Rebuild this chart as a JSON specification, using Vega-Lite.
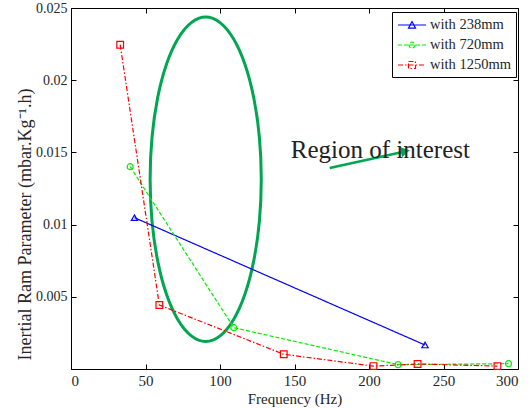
{
  "$schema": "https://vega.github.io/schema/vega-lite/v6.json",
  "width": 447,
  "height": 361,
  "autosize": "none",
  "padding": {"left": 71, "top": 8, "right": 12, "bottom": 39},
  "background": "white",
  "config": {
    "view": {"stroke": "black", "strokeWidth": 1},
    "font": "Liberation Serif",
    "axis": {
      "labelFont": "Liberation Serif",
      "labelFontSize": 14,
      "titleFont": "Liberation Serif",
      "titleFontSize": 14,
      "titleFontWeight": "normal",
      "labelColor": "#262626",
      "titleColor": "#262626",
      "domainColor": "black",
      "tickColor": "black",
      "grid": false,
      "tickSize": -5,
      "labelPadding": 9
    }
  },
  "datasets": {
    "series": [
      {"series": "with 238mm", "freq": 42.6, "value": 0.01048},
      {"series": "with 238mm", "freq": 237.6, "value": 0.00166},
      {"series": "with 720mm", "freq": 39.7, "value": 0.01401},
      {"series": "with 720mm", "freq": 109.3, "value": 0.00286},
      {"series": "with 720mm", "freq": 219.5, "value": 0.0003},
      {"series": "with 720mm", "freq": 293.6, "value": 0.00037},
      {"series": "with 1250mm", "freq": 33.0, "value": 0.02246},
      {"series": "with 1250mm", "freq": 59.3, "value": 0.00443},
      {"series": "with 1250mm", "freq": 142.8, "value": 0.00102},
      {"series": "with 1250mm", "freq": 203.0, "value": 0.0002},
      {"series": "with 1250mm", "freq": 232.6, "value": 0.00035},
      {"series": "with 1250mm", "freq": 286.2, "value": 0.0002}
    ],
    "ellipse": [
      {"i": 0, "freq": 127.7, "value": 0.01314},
      {"i": 1, "freq": 126.43, "value": 0.01605},
      {"i": 2, "freq": 122.7, "value": 0.01876},
      {"i": 3, "freq": 116.77, "value": 0.02109},
      {"i": 4, "freq": 109.05, "value": 0.02287},
      {"i": 5, "freq": 100.05, "value": 0.02399},
      {"i": 6, "freq": 90.4, "value": 0.02438},
      {"i": 7, "freq": 80.75, "value": 0.02399},
      {"i": 8, "freq": 71.75, "value": 0.02287},
      {"i": 9, "freq": 64.03, "value": 0.02109},
      {"i": 10, "freq": 58.1, "value": 0.01876},
      {"i": 11, "freq": 54.37, "value": 0.01605},
      {"i": 12, "freq": 53.1, "value": 0.01314},
      {"i": 13, "freq": 54.37, "value": 0.01023},
      {"i": 14, "freq": 58.1, "value": 0.00752},
      {"i": 15, "freq": 64.03, "value": 0.00519},
      {"i": 16, "freq": 71.75, "value": 0.00341},
      {"i": 17, "freq": 80.75, "value": 0.00229},
      {"i": 18, "freq": 90.4, "value": 0.0019},
      {"i": 19, "freq": 100.05, "value": 0.00229},
      {"i": 20, "freq": 109.05, "value": 0.00341},
      {"i": 21, "freq": 116.77, "value": 0.00519},
      {"i": 22, "freq": 122.7, "value": 0.00752},
      {"i": 23, "freq": 126.43, "value": 0.01023}
    ],
    "arrow": [
      {"freq": 173.6, "value": 0.01392},
      {"freq": 221.8, "value": 0.01501}
    ],
    "arrowhead": [
      {"freq": 224.4, "value": 0.01508}
    ],
    "label": [
      {"freq": 147.5, "value": 0.01461, "text": "Region of interest"}
    ]
  },
  "layer": [
    {
      "data": {"name": "ellipse"},
      "mark": {"type": "line", "color": "#00A651", "strokeWidth": 3, "interpolate": "cardinal-closed"},
      "encoding": {
        "x": {"field": "freq", "type": "quantitative", "scale": {"domain": [0, 300], "nice": false},
              "axis": {"orient": "top", "labels": false, "title": null, "domain": false, "values": [0, 50, 100, 150, 200, 250, 300]}},
        "y": {"field": "value", "type": "quantitative", "scale": {"domain": [0, 0.025], "nice": false},
              "axis": {"orient": "right", "labels": false, "title": null, "domain": false, "values": [0.005, 0.01, 0.015, 0.02, 0.025]}},
        "order": {"field": "i", "type": "quantitative"}
      }
    },
    {
      "data": {"name": "series"},
      "mark": {"type": "line", "strokeWidth": 1.2},
      "encoding": {
        "x": {"field": "freq", "type": "quantitative", "scale": {"domain": [0, 300], "nice": false},
              "title": "Frequency (Hz)",
              "axis": {"orient": "bottom", "values": [0, 50, 100, 150, 200, 250, 300], "titlePadding": 3,
                       "labelFontSize": 15, "titleFontSize": 15}},
        "y": {"field": "value", "type": "quantitative", "scale": {"domain": [0, 0.025], "nice": false},
              "title": "Inertial Ram Parameter (mbar.Kg⁻¹.h)",
              "axis": {"orient": "left", "values": [0.005, 0.01, 0.015, 0.02, 0.025],
                       "labelExpr": "toString(round(datum.value*1000)/1000)", "titleFontSize": 18, "titlePadding": 1, "titleY": 216}},
        "color": {
          "field": "series", "type": "nominal",
          "scale": {"domain": ["with 238mm", "with 720mm", "with 1250mm"], "range": ["#0000FF", "#00EE00", "#FF0000"]},
          "legend": {
            "title": null, "orient": "none", "legendX": 321, "legendY": 4,
            "direction": "vertical",
            "fillColor": "white", "strokeColor": "black", "padding": 5,
            "labelFont": "Liberation Serif", "labelFontSize": 14.5, "labelColor": "#262626",
            "symbolSize": 196, "symbolStrokeWidth": 1.2, "labelOffset": 17, "rowPadding": 5,
            "encode": {
              "symbols": {
                "update": {
                  "shape": {"signal": "datum.value === 'with 238mm' ? 'M-1,0L3,0M0.5,0.45L1,-0.5L1.5,0.45Z' : datum.value === 'with 720mm' ? 'M-1,0L3,0M1.43,0A0.43,0.43 0 1,1 0.57,0A0.43,0.43 0 1,1 1.43,0' : 'M-1,0L3,0M0.5,-0.5H1.5V0.5H0.5Z'"},
                  "strokeDash": {"signal": "datum.value === 'with 238mm' ? [1,0] : datum.value === 'with 720mm' ? [4,2] : [5,2,1.5,2]"},
                  "fill": {"value": "transparent"}
                }
              }
            }
          }
        },
        "strokeDash": {
          "field": "series", "type": "nominal",
          "scale": {"domain": ["with 238mm", "with 720mm", "with 1250mm"], "range": [[1, 0], [4, 2], [5, 2, 1.5, 2]]},
          "legend": null
        }
      }
    },
    {
      "data": {"name": "series"},
      "transform": [{"filter": "datum.series === 'with 238mm'"}],
      "mark": {"type": "point", "shape": "triangle-up", "filled": false, "strokeWidth": 1.2, "opacity": 1, "size": 40},
      "encoding": {
        "x": {"field": "freq", "type": "quantitative", "axis": null},
        "y": {"field": "value", "type": "quantitative", "axis": null},
        "color": {"field": "series", "type": "nominal"}
      }
    },
    {
      "data": {"name": "series"},
      "transform": [{"filter": "datum.series === 'with 720mm'"}],
      "mark": {"type": "point", "shape": "circle", "filled": false, "strokeWidth": 1.2, "opacity": 1, "size": 36},
      "encoding": {
        "x": {"field": "freq", "type": "quantitative", "axis": null},
        "y": {"field": "value", "type": "quantitative", "axis": null},
        "color": {"field": "series", "type": "nominal"}
      }
    },
    {
      "data": {"name": "series"},
      "transform": [{"filter": "datum.series === 'with 1250mm'"}],
      "mark": {"type": "point", "shape": "square", "filled": false, "strokeWidth": 1.2, "opacity": 1, "size": 45},
      "encoding": {
        "x": {"field": "freq", "type": "quantitative", "axis": null},
        "y": {"field": "value", "type": "quantitative", "axis": null},
        "color": {"field": "series", "type": "nominal"}
      }
    },
    {
      "data": {"name": "arrow"},
      "mark": {"type": "line", "color": "#00A651", "strokeWidth": 2.5},
      "encoding": {
        "x": {"field": "freq", "type": "quantitative", "axis": null},
        "y": {"field": "value", "type": "quantitative", "axis": null}
      }
    },
    {
      "data": {"name": "arrowhead"},
      "mark": {"type": "point", "shape": "triangle-right", "filled": true, "color": "#00A651", "opacity": 1, "size": 110, "angle": -12},
      "encoding": {
        "x": {"field": "freq", "type": "quantitative", "axis": null},
        "y": {"field": "value", "type": "quantitative", "axis": null}
      }
    },
    {
      "data": {"name": "label"},
      "mark": {"type": "text", "font": "Liberation Serif", "fontSize": 25, "align": "left", "baseline": "alphabetic", "color": "#222222"},
      "encoding": {
        "x": {"field": "freq", "type": "quantitative", "axis": null},
        "y": {"field": "value", "type": "quantitative", "axis": null},
        "text": {"field": "text"}
      }
    }
  ]
}
